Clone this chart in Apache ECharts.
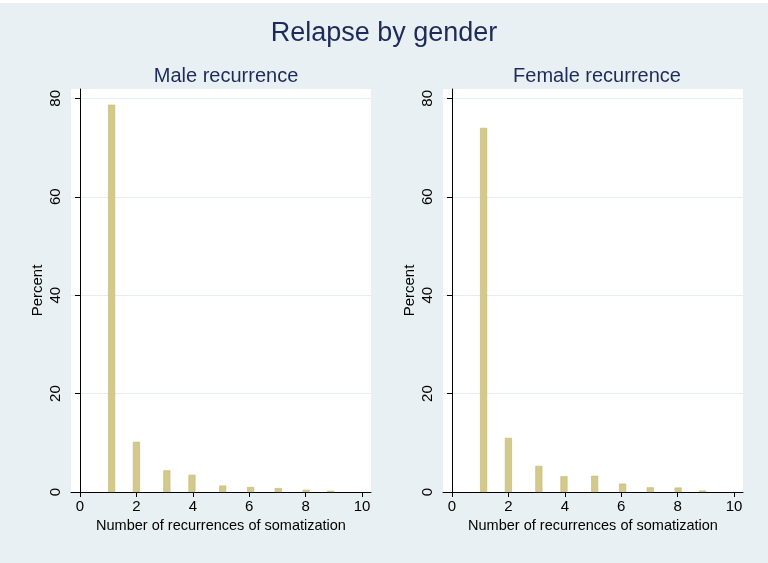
<!DOCTYPE html>
<html>
<head>
<meta charset="utf-8">
<script src="https://cdn.jsdelivr.net/npm/echarts@6/dist/echarts.min.js"></script>
<style>
  html, body { margin: 0; padding: 0; background: #fff; }
  #chart { width: 768px; height: 563px; }
</style>
</head>
<body>
<div id="chart"></div>
<script>
// bin centres of the histogram bars (number of recurrences)
const binCenters = [1.12, 2.0, 3.08, 3.97, 5.06, 6.05, 7.03, 8.02, 8.89];
// percent per bin
const malePercent = [78.7, 10.2, 4.4, 3.5, 1.3, 1.0, 0.8, 0.45, 0.25];
const femalePercent = [74.0, 11.0, 5.3, 3.2, 3.3, 1.7, 0.95, 0.9, 0.3];
const xTicks = [0, 2, 4, 6, 8, 10];
const yTicks = [0, 20, 40, 60, 80];
const panelTitles = ["Male recurrence", "Female recurrence"];

const font = "Liberation Sans, Arial, sans-serif";
const barColor = "#d3c98a";
const titleColor = "#1c2b5a";

let mychart = echarts.init(document.getElementById("chart"));

function xAxisFor(i) {
  return {
    gridIndex: i,
    type: "value",
    min: -0.32,
    max: 10.32,
    name: "Number of recurrences of somatization",
    nameLocation: "middle",
    nameGap: 23,
    nameTextStyle: { color: "#000", fontSize: 14.5, fontFamily: font },
    axisLine: { show: true, onZero: false, lineStyle: { color: "#000", width: 1 } },
    axisTick: { show: true, length: 5, customValues: xTicks, lineStyle: { color: "#000" } },
    axisLabel: { customValues: xTicks, color: "#000", fontSize: 15, fontFamily: font, margin: 7 },
    splitLine: { show: false }
  };
}

function yAxisFor(i) {
  return {
    gridIndex: i,
    type: "value",
    min: 0,
    max: 81.9,
    name: "Percent",
    nameLocation: "middle",
    nameRotate: 90,
    nameGap: 26,
    nameTextStyle: { color: "#000", fontSize: 15, fontFamily: font },
    axisLine: { show: true, lineStyle: { color: "#000", width: 1 } },
    axisTick: { show: true, length: 5, customValues: yTicks, lineStyle: { color: "#000" } },
    axisLabel: { customValues: yTicks, rotate: 90, color: "#000", fontSize: 15, fontFamily: font, margin: 8 },
    splitLine: { show: true, lineStyle: { color: "#e4edf0", width: 1 } }
  };
}

function seriesFor(i, values) {
  return {
    type: "bar",
    xAxisIndex: i,
    yAxisIndex: i,
    data: binCenters.map((c, k) => [c, values[k]]),
    barWidth: 7,
    itemStyle: { color: barColor, borderColor: "#c2b772", borderWidth: 0.6 },
    animation: false
  };
}

let option = {
  backgroundColor: "#e9f0f3",
  animation: false,
  title: [
    {
      text: "Relapse by gender",
      left: "center",
      top: 15,
      textStyle: { color: titleColor, fontSize: 27, fontWeight: "normal", fontFamily: font }
    },
    {
      text: panelTitles[0],
      left: 221,
      textAlign: "center",
      top: 61,
      textStyle: { color: titleColor, fontSize: 20, fontWeight: "normal", fontFamily: font }
    },
    {
      text: panelTitles[1],
      left: 592,
      textAlign: "center",
      top: 61,
      textStyle: { color: titleColor, fontSize: 20, fontWeight: "normal", fontFamily: font }
    }
  ],
  graphic: [
    {
      type: "rect",
      left: 0,
      top: 0,
      shape: { width: 768, height: 3 },
      style: { fill: "#ffffff" },
      silent: true
    }
  ],
  grid: [
    { left: 71, top: 89, width: 300, height: 403, backgroundColor: "#fff", show: true, borderWidth: 0 },
    { left: 443, top: 89, width: 300, height: 403, backgroundColor: "#fff", show: true, borderWidth: 0 }
  ],
  xAxis: [xAxisFor(0), xAxisFor(1)],
  yAxis: [yAxisFor(0), yAxisFor(1)],
  series: [seriesFor(0, malePercent), seriesFor(1, femalePercent)]
};

mychart.setOption(option);
</script>
</body>
</html>
